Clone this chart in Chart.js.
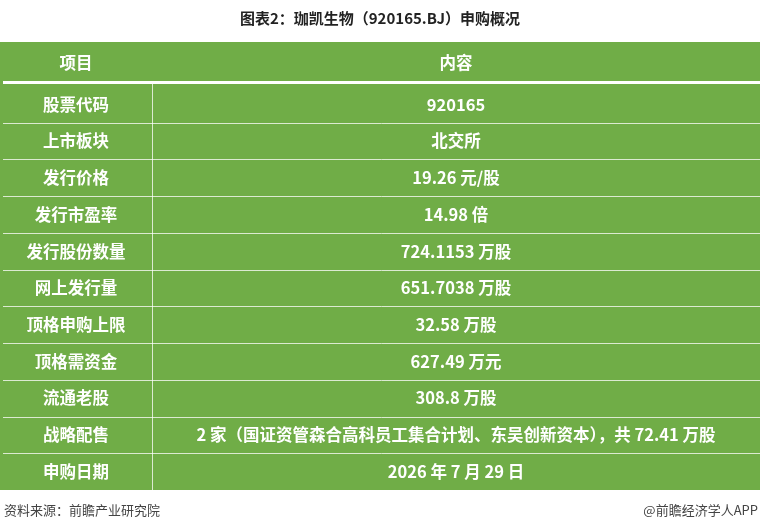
<!DOCTYPE html>
<html>
<head>
<meta charset="utf-8">
<script src="https://cdn.jsdelivr.net/npm/chart.js@4/dist/chart.umd.min.js"></script>
<style>
html,body{margin:0;padding:0;background:#fff;}
#wrap{width:760px;height:531px;position:relative;}
</style>
</head>
<body>
<div id="wrap"><canvas id="myChart"></canvas></div>
<script>
"use strict";

const title = "图表2：珈凯生物（920165.BJ）申购概况";
const headers = ["项目", "内容"];
const items = ["股票代码", "上市板块", "发行价格", "发行市盈率", "发行股份数量", "网上发行量",
	"顶格申购上限", "顶格需资金", "流通老股", "战略配售", "申购日期"];
const contents = ["920165", "北交所", "19.26 元/股", "14.98 倍", "724.1153 万股", "651.7038 万股",
	"32.58 万股", "627.49 万元", "308.8 万股",
	"2 家（国证资管森合高科员工集合计划、东吴创新资本），共 72.41 万股", "2026 年 7 月 29 日"];
const source = "资料来源：前瞻产业研究院";
const brand = "@前瞻经济学人APP";

const green = "#70AD47";
const font = '"Noto Sans CJK SC", "Noto Sans", sans-serif';

const tablePlugin = {
	id: "table",
	beforeDraw(chart) {
		const ctx = chart.ctx;
		const area = chart.chartArea;
		const y = chart.scales.y;
		const w = chart.width;
		const divX = 152;
		ctx.save();
		// title
		ctx.fillStyle = "#222";
		ctx.font = "bold 15px " + font;
		ctx.textAlign = "center";
		ctx.textBaseline = "middle";
		ctx.fillText(title, w / 2, 18);
		// background
		ctx.fillStyle = green;
		ctx.fillRect(0, 42, w, area.bottom - 42);
		// header
		ctx.fillStyle = "#fff";
		ctx.font = "bold 16.5px " + font;
		ctx.fillText(headers[0], divX / 2, 63);
		ctx.fillText(headers[1], (divX + w) / 2, 63);
		ctx.fillRect(3, 81, w - 3, 3);
		// rows
		const half = (y.getPixelForValue(1) - y.getPixelForValue(0)) / 2;
		ctx.strokeStyle = "rgba(255,255,255,0.75)";
		ctx.lineWidth = 1;
		items.forEach(function (item, i) {
			const cy = y.getPixelForValue(i);
			ctx.fillStyle = "#fff";
			ctx.font = "bold 16.5px " + font;
			ctx.fillText(item, divX / 2, cy);
			ctx.fillText(contents[i], (divX + w) / 2, cy);
			if (i < items.length - 1) {
				ctx.beginPath();
				ctx.moveTo(3, Math.round(cy + half) + 0.5);
				ctx.lineTo(w, Math.round(cy + half) + 0.5);
				ctx.stroke();
			}
		});
		ctx.beginPath();
		ctx.moveTo(divX + 0.5, 84);
		ctx.lineTo(divX + 0.5, area.bottom);
		ctx.stroke();
		// footer
		ctx.fillStyle = "#444";
		ctx.font = "13px " + font;
		ctx.textAlign = "left";
		ctx.fillText(source, 4, 510);
		ctx.textAlign = "right";
		ctx.fillText(brand, w - 2, 510);
		ctx.restore();
	},
};

new Chart(document.getElementById("myChart"), {
	type: "bar",
	data: {
		labels: items,
		datasets: [{ data: items.map(function () { return 0; }), backgroundColor: "rgba(0,0,0,0)" }],
	},
	options: {
		indexAxis: "y",
		responsive: true,
		maintainAspectRatio: false,
		animation: false,
		layout: { padding: { top: 86, bottom: 41, left: 0, right: 0 } },
		plugins: { legend: { display: false }, tooltip: { enabled: false } },
		scales: {
			x: { display: false, min: 0, max: 1 },
			y: { display: false, offset: true, grid: { offset: true } },
		},
	},
	plugins: [tablePlugin],
});
</script>
</body>
</html>
